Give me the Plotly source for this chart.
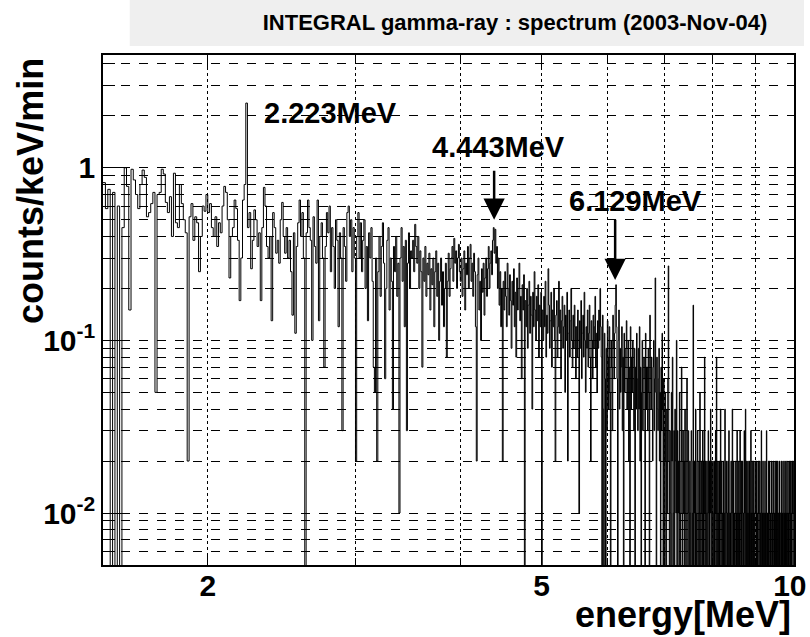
import numpy as np
import plotly.graph_objects as go

# ---------------- data (counts/keV/min, in units of 0.01) ----------------
energy_start_mev = 1.50
bin_width_mev = 0.01
rate_unit = 0.01

rate_1p50 = [82, 58, 75, 0, 72, 0, 60, 0, 45, 100, 78, 15, 98, 85, 70, 58, 80, 97, 88, 52,
             55, 62, 72, 5, 70, 72, 98, 92, 63, 55, 68, 40, 93, 48, 45, 80, 62, 50, 42, 2,
             52, 62, 38, 52, 48, 25, 40, 60, 56, 70]
rate_2p00 = [55, 62, 45, 40, 52, 35, 48, 42, 60, 78, 72, 50, 23, 40, 45, 65, 58, 38, 17, 30,
             65, 80, 237, 45, 55, 26, 38, 57, 50, 35, 42, 17, 45, 77, 60, 35, 30, 40, 13, 55,
             45, 32, 38, 28, 50, 63, 40, 32, 45, 30]
rate_2p50 = [38, 25, 14, 42, 11, 35, 48, 65, 40, 55, 30, 0, 42, 65, 45, 38, 10, 52, 35, 28,
             65, 13, 40, 48, 30, 7, 35, 55, 42, 60, 25, 45, 35, 20, 50, 38, 12, 42, 30, 3,
             45, 35, 22, 55, 60, 40, 50, 25, 45, 30]
rate_3p00 = [2, 40, 55, 30, 48, 25, 38, 50, 20, 35, 13, 42, 30, 45, 22, 7, 5, 30, 2, 25,
             40, 18, 35, 48, 28, 6, 20, 38, 45, 15, 30, 22, 4, 35, 25, 40, 18, 28, 1, 30,
             45, 22, 35, 12, 38, 3, 28, 42, 20, 33]
rate_3p50 = [30, 38, 25, 47, 35, 28, 40, 20, 33, 25, 7, 30, 22, 35, 18, 28, 24, 32, 15, 26,
             21, 30, 12, 25, 33, 18, 28, 10, 22, 30, 16, 25, 12, 20, 28, 8, 22, 32, 18, 26,
             30, 35, 22, 39, 28, 33, 20, 30, 36, 25]
rate_4p00 = [22, 30, 18, 26, 33, 15, 28, 24, 35, 20, 30, 36, 22, 28, 18, 32, 25, 12, 2, 24,
             30, 15, 22, 10, 26, 19, 28, 14, 23, 30, 18, 26, 35, 20, 28, 33, 24, 38, 45, 32,
             44, 28, 35, 20, 30, 16, 25, 12, 20, 2]
rate_4p50 = [22, 15, 25, 18, 12, 28, 20, 14, 24, 17, 9, 22, 16, 26, 12, 19, 8, 23, 15, 20,
             28, 13, 18, 6, 21, 15, 24, 0, 17, 12, 20, 9, 16, 22, 11, 18, 14, 4, 19, 12,
             25, 15, 10, 18, 13, 21, 8, 16, 12, 19]
rate_5p00 = [0, 15, 10, 18, 12, 22, 8, 14, 11, 26, 16, 9, 13, 19, 7, 15, 12, 20, 10, 2,
             14, 17, 8, 12, 22, 11, 15, 6, 13, 18, 9, 12, 16, 5, 14, 10, 19, 2, 11, 15,
             8, 13, 20, 10, 7, 14, 9, 16, 12, 6]
rate_5p50 = [12, 8, 15, 10, 1, 13, 9, 17, 6, 11, 14, 8, 19, 10, 5, 12, 9, 15, 7, 11,
             16, 8, 2, 13, 10, 6, 14, 9, 12, 18, 7, 11, 5, 13, 9, 15, 10, 20, 12, 8,
             0, 14, 4, 0, 11, 6, 0, 9, 3, 13]
rate_6p00 = [8, 4, 12, 5, 0, 10, 7, 3, 14, 9, 6, 11, 16, 21, 12, 6, 0, 10, 15, 4,
             9, 5, 7, 12, 3, 8, 0, 11, 5, 7, 9, 13, 4, 6, 10, 2, 7, 0, 12, 4,
             8, 5, 10, 6, 3, 9, 0, 7, 4, 11]
rate_6p50 = [6, 3, 9, 4, 12, 2, 7, 0, 5, 10, 3, 6, 8, 6, 0, 11, 4, 7, 7, 3,
             9, 5, 0, 14, 6, 4, 8, 4, 2, 7, 10, 3, 6, 23, 5, 0, 8, 4, 3, 6,
             9, 2, 5, 0, 7, 3, 11, 4, 0, 6]
rate_7p00 = [3, 0, 5, 2, 0, 4, 1, 6, 27, 2, 0, 3, 1, 0, 5, 2, 8, 0, 1, 3,
             0, 4, 2, 1, 10, 0, 3, 1, 2, 0, 5, 1, 0, 2, 7, 1, 0, 3, 1, 2,
             0, 4, 1, 0, 2, 6, 1, 0, 3, 1]
rate_7p50 = [0, 2, 1, 0, 3, 2, 0, 1, 16, 0, 2, 1, 0, 4, 1, 0, 2, 3, 0, 1,
             2, 0, 5, 1, 0, 2, 1, 0, 3, 2, 0, 1, 8, 0, 2, 1, 0, 2, 1, 0,
             3, 1, 0, 2, 1, 4, 0, 2, 1, 0]
rate_8p00 = [2, 1, 0, 2, 0, 1, 3, 0, 8, 1, 0, 2, 1, 0, 2, 0, 1, 4, 0, 2,
             1, 0, 1, 2, 0, 1, 0, 4, 1, 0, 2, 1, 0, 1, 2, 0, 3, 1, 0, 1,
             0, 2, 1, 0, 4, 1, 0, 2, 0, 1]
rate_8p50 = [0, 1, 2, 0, 1, 3, 0, 1, 0, 2, 1, 0, 3, 1, 0, 2, 0, 1, 2, 0,
             1, 0, 3, 1, 0, 4, 1, 0, 2, 0, 1, 2, 0, 1, 0, 2, 1, 0, 3, 0,
             1, 2, 0, 1, 0, 2, 1, 0, 1, 2]
rate_9p00 = [1, 0, 2, 0, 1, 0, 2, 1, 0, 0, 2, 1, 0, 1, 3, 0, 1, 0, 2, 0,
             1, 1, 0, 2, 0, 1, 0, 3, 1, 0, 1, 0, 2, 0, 1, 2, 0, 1, 0, 1,
             2, 0, 1, 0, 2, 1, 0, 1, 0, 2]
rate_9p50 = [0, 1, 2, 0, 1, 0, 2, 1, 0, 1, 0, 2, 0, 1, 1, 0, 2, 0, 1, 0,
             2, 1, 0, 1, 0, 2, 0, 1, 2, 0, 1, 0, 1, 2, 0, 1, 0, 2, 1, 0,
             2, 0, 1, 0, 2, 1, 2, 0, 1, 2]

x_tick_vals = [2, 5, 10]
x_tick_text = ["2", "5", "10\u00a0"]
y_tick_vals = [0.01, 0.1, 1]
y_tick_text = ["10<sup>-2</sup>", "10<sup>-1</sup>", "1"]

line_labels = ["2.223MeV", "4.443MeV", "6.129MeV"]
arrow_energy = [4.39, 6.12]          # MeV
arrow_tail = [1.0, 0.52]             # counts/keV/min
arrow_tip = [0.5, 0.224]

title_text = "INTEGRAL gamma-ray : spectrum (2003-Nov-04)"
y_title = "counts/keV/min"
x_title = "energy[MeV]"

# ---------------- build histogram ----------------
rate = np.concatenate([rate_1p50, rate_2p00, rate_2p50, rate_3p00, rate_3p50, rate_4p00,
                       rate_4p50, rate_5p00, rate_5p50, rate_6p00, rate_6p50, rate_7p00,
                       rate_7p50, rate_8p00, rate_8p50, rate_9p00, rate_9p50]) * rate_unit
edges = energy_start_mev + bin_width_mev * np.arange(len(rate) + 1)
y_draw = np.where(rate > 0, rate, 1e-4)   # empty bins fall below the axis
y_step = np.append(y_draw, y_draw[-1])

FONT = "Liberation Sans"

fig = go.Figure()
fig.add_trace(go.Scatter(x=edges, y=y_step, mode="lines",
                         line=dict(shape="hv", color="black", width=1),
                         hoverinfo="skip", showlegend=False))

y_minor = [m * 10.0 ** k for k in (-3, -2, -1, 0) for m in range(2, 10)
           if 0.005 <= m * 10.0 ** k <= 4.5]
x_minor = [3, 4, 6, 7, 8, 9]

fig.update_xaxes(type="log", range=[np.log10(1.5), 1.0], automargin=False,
                 tickmode="array", tickvals=x_tick_vals, ticktext=x_tick_text,
                 ticklabeloverflow="allow", ticklabelstandoff=-7,
                 ticks="inside", ticklen=12, tickwidth=1, tickcolor="black",
                 showgrid=True, gridcolor="black", griddash="dot", gridwidth=1,
                 minor=dict(tickmode="array", tickvals=x_minor, ticks="inside", ticklen=7,
                            tickcolor="black", showgrid=True, gridcolor="black",
                            griddash="dot", gridwidth=1),
                 showline=True, linecolor="black", linewidth=1.5, mirror="allticks",
                 zeroline=False,
                 tickfont=dict(family=FONT, size=30, color="black", weight="bold"))
fig.update_yaxes(type="log", range=[np.log10(0.005), np.log10(4.5)], automargin=False,
                 tickmode="array", tickvals=y_tick_vals, ticktext=y_tick_text,
                 ticks="inside", ticklen=22, tickwidth=1, tickcolor="black",
                 showgrid=True, gridcolor="black", griddash="dash", gridwidth=1,
                 minor=dict(tickmode="array", tickvals=y_minor, ticks="inside", ticklen=12,
                            tickcolor="black", showgrid=True, gridcolor="black",
                            griddash="dash", gridwidth=1),
                 showline=True, linecolor="black", linewidth=1.5, mirror=True,
                 zeroline=False,
                 tickfont=dict(family=FONT, size=30, color="black", weight="bold"))

ann_font = dict(family=FONT, size=29, color="black", weight="bold")
annotations = [
    dict(text=line_labels[0], x=np.log10(2.324), y=np.log10(2.08), xref="x", yref="y",
         xanchor="left", yanchor="middle", showarrow=False, font=ann_font),
    dict(text=line_labels[1], x=np.log10(4.446), y=np.log10(1.32), xref="x", yref="y",
         xanchor="center", yanchor="middle", showarrow=False, font=ann_font),
    dict(text=line_labels[2], x=np.log10(6.475), y=np.log10(0.644), xref="x", yref="y",
         xanchor="center", yanchor="middle", showarrow=False, font=ann_font),
    dict(text=y_title, textangle=-90, x=-0.106, y=0.733, xref="paper", yref="paper",
         xanchor="center", yanchor="middle", showarrow=False,
         font=dict(family=FONT, size=36, color="black", weight="bold")),
    dict(text=x_title, x=0.9986, y=-0.098, xref="paper", yref="paper",
         xanchor="right", yanchor="middle", showarrow=False,
         font=dict(family=FONT, size=36, color="black", weight="bold")),
]
for e, tail, tip in zip(arrow_energy, arrow_tail, arrow_tip):
    annotations.append(dict(text=" ", x=np.log10(e), y=np.log10(tip), xref="x", yref="y",
                            ax=np.log10(e), ay=np.log10(tail), axref="x", ayref="y",
                            showarrow=True, arrowhead=2, arrowsize=1.7, arrowwidth=2.5,
                            arrowcolor="black", standoff=0, font=dict(size=2)))

fig.update_layout(
    width=810, height=637,
    margin=dict(l=103, r=16, t=55, b=72, autoexpand=False),
    paper_bgcolor="white", plot_bgcolor="white",
    title=dict(text=title_text, x=515 / 810, xanchor="center", y=1 - 22 / 637, yanchor="middle",
               font=dict(family=FONT, size=22, color="black", weight="bold")),
    shapes=[dict(type="rect", xref="paper", yref="paper", x0=0.0387, x1=1.0145,
                 y0=1.0176, y1=1.12, fillcolor="#efefef", line=dict(width=0), layer="below")],
    annotations=annotations,
    showlegend=False,
)

fig.write_html("out.html")
